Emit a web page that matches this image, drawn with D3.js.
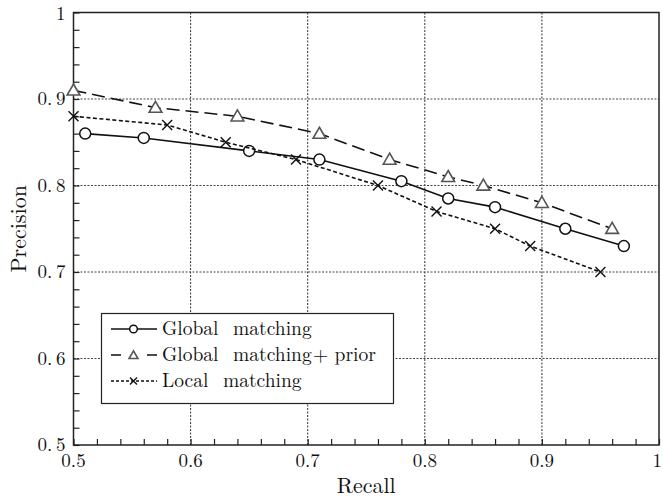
<!DOCTYPE html>
<html>
<head>
<meta charset="utf-8">
<script src="https://cdn.jsdelivr.net/npm/d3@7"></script>
<style>
  body { margin: 0; background: #fff; }
</style>
</head>
<body>
<script>
// data
var recallGlobal = [0.51, 0.56, 0.65, 0.71, 0.78, 0.82, 0.86, 0.92, 0.97];
var precGlobal   = [0.86, 0.855, 0.84, 0.83, 0.805, 0.785, 0.775, 0.75, 0.73];

var recallPrior = [0.50, 0.57, 0.64, 0.71, 0.77, 0.82, 0.85, 0.90, 0.96];
var precPrior   = [0.91, 0.89, 0.88, 0.86, 0.83, 0.81, 0.80, 0.78, 0.75];

var recallLocal = [0.50, 0.58, 0.63, 0.69, 0.76, 0.81, 0.86, 0.89, 0.95];
var precLocal   = [0.88, 0.87, 0.85, 0.83, 0.80, 0.77, 0.75, 0.73, 0.70];

var xTicks = [0.5, 0.6, 0.7, 0.8, 0.9, 1];
var yTicks = [0.5, 0.6, 0.7, 0.8, 0.9, 1];
var seriesNames = ["Global\u2002\u2005matching", "Global\u2002\u2005matching\u200a+ prior", "Local\u2002\u2005matching"];

var W = 663, H = 499;
var margin = {left: 73.5, right: 4, top: 12.5, bottom: 54};
var FONT = "'Latin Modern Roman', 'Liberation Serif', serif";

var svg = d3.select("body").append("svg")
    .attr("width", W)
    .attr("height", H);

var x = d3.scaleLinear().domain([0.5, 1]).range([margin.left, W - margin.right]);
var y = d3.scaleLinear().domain([0.5, 1]).range([H - margin.bottom, margin.top]);

//grid lines
svg.append("g").selectAll("line.gx")
    .data(xTicks.slice(1, -1))
    .enter().append("line")
    .attr("x1", d => x(d)).attr("x2", d => x(d))
    .attr("y1", y(0.5)).attr("y2", y(1))
    .style("stroke", "#333").style("stroke-width", 1)
    .style("stroke-dasharray", "2,1.5");

svg.append("g").selectAll("line.gy")
    .data(yTicks.slice(1, -1))
    .enter().append("line")
    .attr("y1", d => y(d)).attr("y2", d => y(d))
    .attr("x1", x(0.5)).attr("x2", x(1))
    .style("stroke", "#444").style("stroke-width", 1)
    .style("stroke-dasharray", "2,1.5");

//axes with inward minor ticks
var minor = d3.range(0.5, 1.0001, 0.02);

svg.append("g")
    .attr("transform", "translate(0," + y(0.5) + ")")
    .call(d3.axisBottom(x).tickValues(minor).tickSize(-6).tickFormat(""));
svg.append("g")
    .attr("transform", "translate(" + x(0.5) + ",0)")
    .call(d3.axisLeft(y).tickValues(minor).tickSize(-6).tickFormat(""));
svg.selectAll(".domain").remove();
svg.selectAll(".tick line").style("stroke", "#222").style("stroke-width", 1.2);

//frame
svg.append("rect")
    .attr("x", x(0.5)).attr("y", y(1))
    .attr("width", x(1) - x(0.5)).attr("height", y(0.5) - y(1))
    .style("fill", "none").style("stroke", "#222").style("stroke-width", 1.5);

//tick labels
svg.append("g").selectAll("text")
    .data(xTicks)
    .enter().append("text")
    .attr("x", d => d === 1 ? W - 1 : x(d)).attr("y", y(0.5) + 22)
    .attr("text-anchor", d => d === 1 ? "end" : "middle")
    .attr("font-family", FONT)
    .attr("font-size", 19)
    .attr("fill", "#111")
    .text(d => d3.format("~g")(d));

svg.append("g").selectAll("text")
    .data(yTicks)
    .enter().append("text")
    .attr("x", x(0.5) - 8).attr("y", d => d === 1 ? y(d) + 7 : y(d) + 6)
    .attr("text-anchor", "end")
    .attr("font-family", FONT)
    .attr("font-size", 19)
    .attr("fill", "#111")
    .text(d => d3.format("~g")(d).replace(".", ".\u2009"));

//axis titles
svg.append("text")
    .attr("x", (x(0.5) + x(1)) / 2).attr("y", 493)
    .attr("text-anchor", "middle")
    .attr("font-family", FONT)
    .attr("font-size", 22)
    .attr("fill", "#111")
    .text("Recall");

svg.append("text")
    .attr("transform", "translate(26," + ((y(0.5) + y(1)) / 2) + ") rotate(-90)")
    .attr("text-anchor", "middle")
    .attr("font-family", FONT)
    .attr("font-size", 22)
    .attr("fill", "#111")
    .text("Precision");

//series
var series = [
    {xs: recallGlobal, ys: precGlobal, dash: null, marker: "circle", color: "#111"},
    {xs: recallPrior, ys: precPrior, dash: "13,6", marker: "triangle", color: "#555"},
    {xs: recallLocal, ys: precLocal, dash: "4,2.5", marker: "cross", color: "#111"}
];

var line = d3.line().x(d => x(d[0])).y(d => y(d[1]));

function drawMarker(g, type, px, py, s, color) {
    if (type === "circle") {
        g.append("circle").attr("cx", px).attr("cy", py).attr("r", 5.5 * s)
            .style("fill", "#fff").style("stroke", "#111").style("stroke-width", 1.5);
    } else if (type === "triangle") {
        var sym = d3.symbol().type(d3.symbolTriangle).size(70 * s * s);
        g.append("path").attr("d", sym())
            .attr("transform", "translate(" + px + "," + (py + 1) + ")")
            .style("fill", "#fff").style("stroke", color).style("stroke-width", 1.6);
    } else {
        var r = 5 * s;
        g.append("path")
            .attr("d", "M" + (px - r) + "," + (py - r) + "L" + (px + r) + "," + (py + r) +
                       "M" + (px - r) + "," + (py + r) + "L" + (px + r) + "," + (py - r))
            .style("stroke", "#111").style("stroke-width", 1.4).style("fill", "none");
    }
}

series.forEach(function (s) {
    var pts = s.xs.map((v, i) => [v, s.ys[i]]);
    svg.append("path")
        .attr("d", line(pts))
        .style("fill", "none")
        .style("stroke", "#111")
        .style("stroke-width", 1.6)
        .style("stroke-dasharray", s.dash);
    var g = svg.append("g");
    pts.forEach(p => drawMarker(g, s.marker, x(p[0]), y(p[1]), 1, s.color));
});

//legend
var legend = svg.append("g");
legend.append("rect")
    .attr("x", 101.5).attr("y", 313.5).attr("width", 292).attr("height", 90)
    .style("fill", "#fff").style("stroke", "#222").style("stroke-width", 1.2);

var rowY = [329, 355, 381];
series.forEach(function (s, i) {
    legend.append("line")
        .attr("x1", 111).attr("x2", 157)
        .attr("y1", rowY[i]).attr("y2", rowY[i])
        .style("stroke", "#111").style("stroke-width", 1.5)
        .style("stroke-dasharray", i === 1 ? "10,8" : i === 2 ? "3,2" : null);
    if (i === 1) {
        legend.append("rect").attr("x", 127).attr("y", rowY[i] - 6).attr("width", 12).attr("height", 12)
            .style("fill", "#fff");
    }
    drawMarker(legend, s.marker, 133.5, rowY[i], 0.7, s.color);
    legend.append("text")
        .attr("x", 162).attr("y", rowY[i] + 6)
        .attr("font-family", FONT)
        .attr("font-size", 19.5)
        .attr("fill", "#111")
        .text(seriesNames[i]);
});
</script>
</body>
</html>
